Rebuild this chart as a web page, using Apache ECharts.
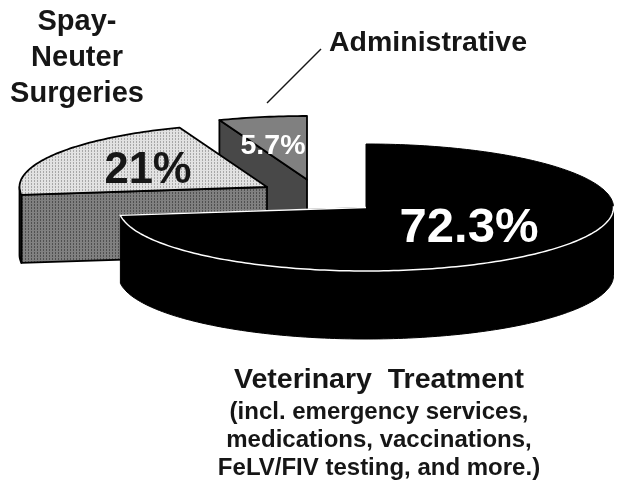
<!DOCTYPE html>
<html>
<head>
<meta charset="utf-8">
<title>Pie</title>
<script src="https://cdn.jsdelivr.net/npm/echarts@6/dist/echarts.min.js"></script>
<style>
html, body { margin: 0; padding: 0; background: #fff; }
#main { width: 622px; height: 481px; }
</style>
</head>
<body>
<div id="main"></div>
<script>
var categories = ['Veterinary  Treatment', 'Spay-Neuter Surgeries', 'Administrative'];
var values = [72.3, 21, 5.7];
var spayLines = ['Spay-', 'Neuter', 'Surgeries'];
var vetLines = ['(incl. emergency services,', 'medications, vaccinations,', 'FeLV/FIV testing, and more.)'];

// pie shape
var rx = 247.5, ry = 63.5, depth = 68;
var font = '"Liberation Sans", Arial, sans-serif';
var ink = '#161616';

function dots(base, dot) {
    var c = document.createElement('canvas');
    c.width = 3; c.height = 3;
    var g = c.getContext('2d');
    g.fillStyle = base;
    g.fillRect(0, 0, 3, 3);
    g.fillStyle = dot;
    g.fillRect(1, 1, 1, 1);
    g.fillRect(1, 0, 1, 1);
    return { image: c, repeat: 'repeat' };
}

// slice styles, same order as categories
var slices = [
    { cx: 366, cy: 207.5, top: '#000', wall: '#000', line: '#000', size: 49, color: '#fff', lx: 469, ly: 228 },
    { cx: 267, cy: 187, top: dots('#e2e2e2', '#a8a8a8'), wall: dots('#808080', '#505050'), line: '#000', size: 43.5, color: ink, lx: 148, ly: 171 },
    { cx: 307, cy: 179.5, top: '#808080', wall: '#484848', line: '#000', size: 28.5, color: '#fff', lx: 273, ly: 146 }
];

var total = values.reduce(function (a, b) { return a + b; }, 0);

function rim(s, a, off) {
    return [s.cx + rx * Math.sin(a), s.cy - ry * Math.cos(a) + (off || 0)];
}
function arc(s, a0, a1, off) {
    var pts = [], n = Math.max(2, Math.ceil(Math.abs(a1 - a0) / 0.02));
    for (var i = 0; i <= n; i++) pts.push(rim(s, a0 + (a1 - a0) * i / n, off));
    return pts;
}
function poly(points, fill, stroke, width) {
    return { type: 'polygon', shape: { points: points }, style: { fill: fill, stroke: stroke, lineWidth: width, lineJoin: 'round' } };
}
function wire(points, stroke, width) {
    return { type: 'polyline', shape: { points: points }, style: { fill: null, stroke: stroke, lineWidth: width } };
}

function renderSlice(params, api) {
    var i = api.value(0);
    var a0 = api.value(1) / total * 2 * Math.PI;
    var a1 = api.value(2) / total * 2 * Math.PI;
    var s = slices[i];
    var apex = [s.cx, s.cy];
    var kids = [];
    var right = Math.PI / 2, left = 1.5 * Math.PI;

    if (i === 0) {
        // black slice: round wall in front, white rim and cut edge
        var front = arc(s, right, a1).concat(arc(s, a1, right, depth));
        kids.push(poly(front, s.wall, s.line, 1));
        kids.push(poly([apex].concat(arc(s, a0, a1)), s.top, s.line, 1));
        kids.push(wire(arc(s, right - 0.02, a1).concat([apex]), '#fff', 1.5));
    } else {
        // cut face on the left hand side of the slice
        var e = rim(s, a0);
        var cut = [apex, e, [e[0], e[1] + depth], [apex[0], apex[1] + depth]];
        kids.push(poly(cut, s.wall, s.line, 1.8));
        if (a0 < left) {
            kids.push(poly(arc(s, a0, left).concat(arc(s, left, a0, depth)), s.wall, s.line, 1.8));
        }
        kids.push(poly([apex].concat(arc(s, a0, a1)), s.top, s.line, 1.8));
    }
    kids.push({
        type: 'text',
        style: {
            text: values[i] + '%', x: s.lx, y: s.ly, align: 'center', verticalAlign: 'middle',
            font: 'bold ' + s.size + 'px ' + font, fill: s.color
        }
    });
    return { type: 'group', children: kids };
}

// index, start, end of each slice in value units
var rows = [], acc = 0;
values.forEach(function (v, i) {
    rows.push([i, acc, acc + v]);
    acc += v;
});
// back slices first, the big one goes on top
var drawOrder = [2, 1, 0];

function label(text, x, y, size) {
    return {
        type: 'text', z: 10,
        style: { text: text, x: x, y: y, align: 'center', verticalAlign: 'middle', font: 'bold ' + size + 'px ' + font, fill: ink }
    };
}

var graphics = [
    { type: 'line', z: 10, shape: { x1: 267, y1: 103, x2: 321, y2: 49 }, style: { stroke: ink, lineWidth: 1.5 } },
    label(categories[2], 428, 43, 28.5),
    label(categories[0], 379, 380, 28.5)
];
spayLines.forEach(function (t, i) { graphics.push(label(t, 77, 22 + i * 36, 29)); });
vetLines.forEach(function (t, i) { graphics.push(label(t, 379, 412.5 + i * 28, 24)); });

var myChart = echarts.init(document.getElementById('main'), null, { renderer: 'canvas' });
var option = {
    animation: false,
    backgroundColor: '#fff',
    graphic: graphics,
    series: [{
        type: 'custom',
        coordinateSystem: 'none',
        renderItem: renderSlice,
        data: drawOrder.map(function (i) { return rows[i]; })
    }]
};
myChart.setOption(option);
</script>
</body>
</html>
